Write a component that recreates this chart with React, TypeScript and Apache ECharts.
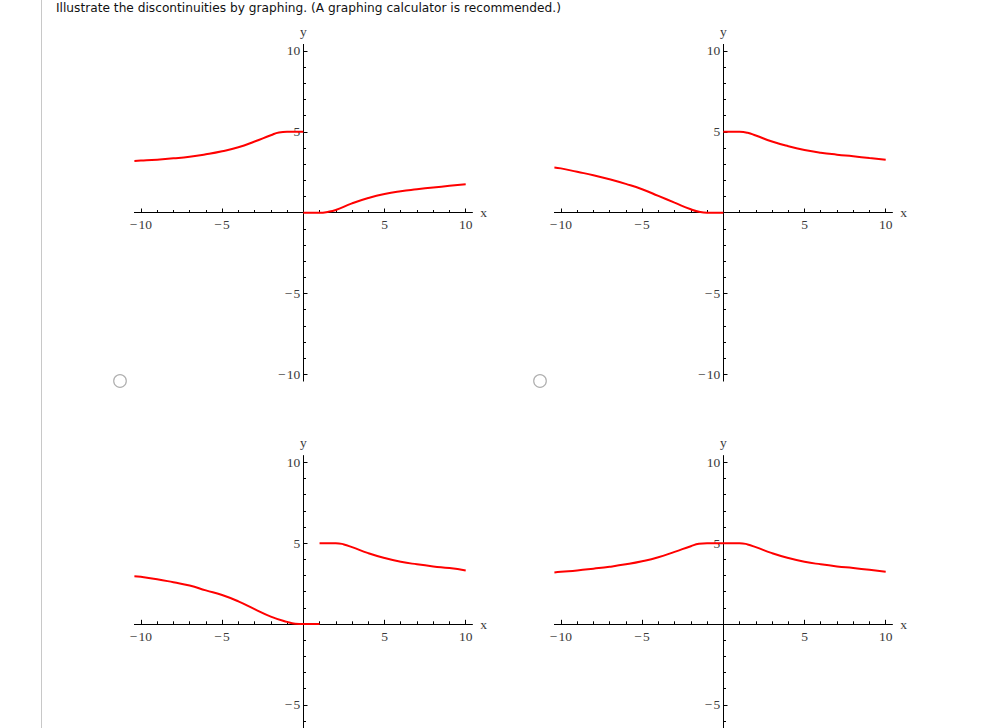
import React, { useEffect, useRef } from "react";
import * as echarts from "echarts";

// tick values
const minorTicks = [-10, -9, -8, -7, -6, -5, -4, -3, -2, -1, 0, 1, 2, 3, 4, 5, 6, 7, 8, 9, 10];
const majorTicks = [-10, -5, 5, 10];
const xTickLabels = [-10, -5, 5, 10];
const yTickLabelsTop = [-10, -5, 5, 10];
const yTickLabelsBottom = [-5, 5, 10]; // -10 lies below the visible page

// Panel A (top-left)
const aLeftX = [-10.4, -10, -9, -8, -7, -6, -5, -4, -3, -2, -1.5, -1, 0];
const aLeftY = [3.2, 3.22, 3.28, 3.36, 3.46, 3.61, 3.8, 4.05, 4.4, 4.79, 4.96, 5.0, 5.0];
const aRightX = [0, 1, 1.5, 2, 3, 4, 5, 6, 7, 8, 9, 10];
const aRightY = [0, 0, 0.05, 0.17, 0.58, 0.91, 1.16, 1.33, 1.45, 1.56, 1.66, 1.76];

// Panel B (top-right)
const bLeftX = [-10.4, -10, -9, -8, -7, -6, -5, -4, -3, -2, -1.5, -1, 0];
const bLeftY = [2.8, 2.74, 2.53, 2.32, 2.07, 1.78, 1.45, 1.04, 0.62, 0.21, 0.06, 0, 0];
const bRightX = [0, 1, 1.5, 2, 3, 4, 5, 6, 7, 8, 9, 10];
const bRightY = [5, 5, 4.94, 4.77, 4.4, 4.11, 3.88, 3.71, 3.59, 3.49, 3.38, 3.28];

// Panel C (bottom-left)
const cLeftX = [-10.4, -10, -9, -8, -7, -6, -5, -4, -3, -2, -1, -0.5, 0, 1];
const cLeftY = [2.96, 2.92, 2.77, 2.58, 2.38, 2.08, 1.79, 1.4, 0.92, 0.46, 0.13, 0.02, 0, 0];
const cRightX = [1, 2, 2.5, 3, 4, 5, 6, 7, 8, 9, 10];
const cRightY = [5, 5, 4.92, 4.75, 4.38, 4.08, 3.85, 3.69, 3.56, 3.46, 3.31];

// Panel D (bottom-right)
const dX = [-10.4, -10, -9, -8, -7, -6, -5, -4, -3, -2, -1.5, -1, 0, 1, 1.5, 2, 3, 4, 5, 6, 7, 8, 9, 10];
const dY = [3.19, 3.23, 3.31, 3.42, 3.54, 3.69, 3.88, 4.13, 4.46, 4.81, 4.96, 5, 5, 5, 4.92, 4.75, 4.38, 4.08, 3.85, 3.69, 3.56, 3.46, 3.35, 3.23];

const panels = [
  { pieces: [[aLeftX, aLeftY], [aRightX, aRightY]], yLabels: yTickLabelsTop },
  { pieces: [[bLeftX, bLeftY], [bRightX, bRightY]], yLabels: yTickLabelsTop },
  { pieces: [[cLeftX, cLeftY], [cRightX, cRightY]], yLabels: yTickLabelsBottom },
  { pieces: [[dX, dY]], yLabels: yTickLabelsBottom },
];

const TITLE = "Illustrate the discontinuities by graphing. (A graphing calculator is recommended.)";

const gridLefts = [134.4, 554.4, 134.4, 554.4];
const gridTops = [44.5, 44.5, 455.8, 455.8];
const GRID_W = 337.8;
const GRID_H = 336.4;
const AX_MIN = -10.4;
const AX_MAX = 10.4;

const serif = "'Liberation Serif', 'Times New Roman', serif";
const fmt = (v: number) => (v < 0 ? "\u2212\u200A" + Math.abs(v) : String(v));

export default function App() {
  const ref = useRef<HTMLDivElement>(null);
  useEffect(() => {
    if (!ref.current) return;
    const chart = echarts.init(ref.current, null, { renderer: "svg" });

    const grid: any[] = [];
    const xAxis: any[] = [];
    const yAxis: any[] = [];
    const series: any[] = [];

    panels.forEach((p, g) => {
      grid.push({ left: gridLefts[g], top: gridTops[g], width: GRID_W, height: GRID_H });
      const xCommon = {
        type: "value",
        gridIndex: g,
        min: AX_MIN,
        max: AX_MAX,
        position: "bottom",
        offset: -GRID_H / 2,
        splitLine: { show: false },
      };
      const yCommon = {
        type: "value",
        gridIndex: g,
        min: AX_MIN,
        max: AX_MAX,
        position: "left",
        offset: -GRID_W / 2,
        splitLine: { show: false },
      };
      // main x axis (minor ticks + labels)
      xAxis.push({
        ...xCommon,
        axisLine: { onZero: false, lineStyle: { color: "#000", width: 1 } },
        axisTick: { inside: true, length: 2.7, customValues: minorTicks, lineStyle: { color: "#000", width: 1 } },
        axisLabel: {
          customValues: xTickLabels,
          formatter: fmt,
          margin: 5,
          fontFamily: serif,
          fontSize: 13.5,
          color: "#3a3a3a",
        },
        name: "x",
        nameLocation: "end",
        nameGap: 8,
        nameTextStyle: { fontFamily: serif, fontSize: 13.5, color: "#3a3a3a" },
      });
      // overlay x axis (major ticks)
      xAxis.push({
        ...xCommon,
        axisLine: { show: true, onZero: false, lineStyle: { color: "#000", width: 1 } },
        axisTick: { inside: true, length: 4.2, customValues: majorTicks, lineStyle: { color: "#000", width: 1 } },
        axisLabel: { show: false },
      });
      yAxis.push({
        ...yCommon,
        axisLine: { onZero: false, lineStyle: { color: "#000", width: 1 } },
        axisTick: { inside: true, length: 2.7, customValues: minorTicks, lineStyle: { color: "#000", width: 1 } },
        axisLabel: {
          customValues: p.yLabels,
          formatter: fmt,
          margin: 3,
          fontFamily: serif,
          fontSize: 13.5,
          color: "#3a3a3a",
        },
        name: "y",
        nameLocation: "end",
        nameGap: 6,
        nameTextStyle: { fontFamily: serif, fontSize: 13.5, color: "#3a3a3a" },
      });
      yAxis.push({
        ...yCommon,
        axisLine: { show: true, onZero: false, lineStyle: { color: "#000", width: 1 } },
        axisTick: { inside: true, length: 4.2, customValues: majorTicks, lineStyle: { color: "#000", width: 1 } },
        axisLabel: { show: false },
      });

      p.pieces.forEach(([xs, ys]) => {
        series.push({
          type: "line",
          xAxisIndex: 2 * g,
          yAxisIndex: 2 * g,
          data: xs.map((x: number, i: number) => [x, ys[i]]),
          showSymbol: false,
          smooth: 0.5,
          lineStyle: { color: "#ff0000", width: 2 },
          itemStyle: { color: "#ff0000" },
          silent: true,
          clip: false,
        });
      });
    });

    chart.setOption({
      animation: false,
      backgroundColor: "#fff",
      grid,
      xAxis,
      yAxis,
      series,
      graphic: [
        {
          type: "line",
          shape: { x1: 41.5, y1: 0, x2: 41.5, y2: 800 },
          style: { stroke: "#c8c8c8", lineWidth: 1 },
          silent: true,
        },
        {
          type: "text",
          x: 56,
          y: 2,
          style: {
            text: TITLE,
            font: "12.2px 'DejaVu Sans', Verdana, sans-serif",
            fill: "#111",
            textVerticalAlign: "top",
          },
          silent: true,
        },
        {
          type: "circle",
          shape: { cx: 120, cy: 381, r: 6.3 },
          style: { fill: "#fff", stroke: "#b0b0b0", lineWidth: 1.2 },
          silent: true,
        },
        {
          type: "circle",
          shape: { cx: 540, cy: 381, r: 6.3 },
          style: { fill: "#fff", stroke: "#b0b0b0", lineWidth: 1.2 },
          silent: true,
        },
      ],
    });
    return () => chart.dispose();
  }, []);
  return (
    <div
      style={{
        position: "absolute",
        left: 0,
        top: 0,
        width: 989,
        height: 728,
        overflow: "hidden",
        background: "#fff",
      }}
    >
      <div ref={ref} style={{ width: 989, height: 800 }} />
    </div>
  );
}
